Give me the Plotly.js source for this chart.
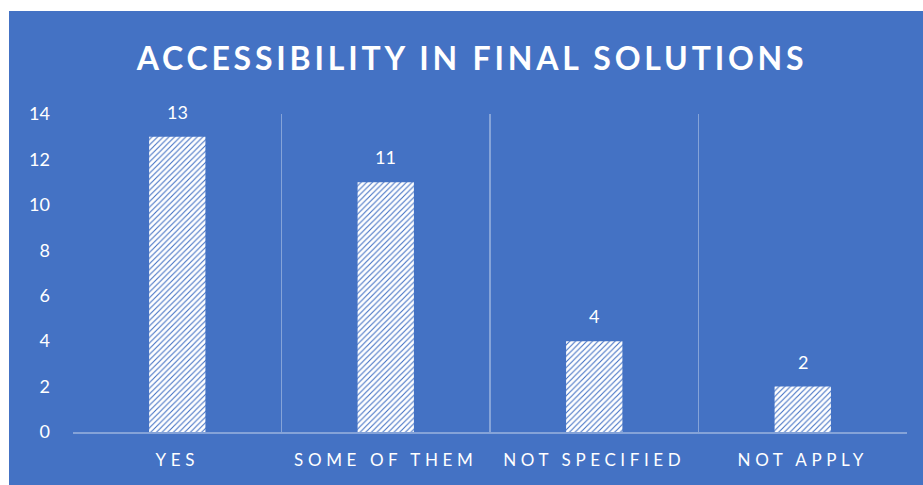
<!DOCTYPE html>
<html>
<head>
<meta charset="utf-8">
<script src="https://cdn.plot.ly/plotly-3.0.1.min.js"></script>
<style>
  html, body { margin: 0; padding: 0; background: #ffffff; }
  #chart { position: absolute; left: 9px; top: 11px; width: 914px; height: 474px; }
  #chart .gtitle { letter-spacing: 3.8px; }
  #chart .xtick text { letter-spacing: 4.6px; }
</style>
</head>
<body>
<div id="chart"></div>
<script>
// Survey answers: is accessibility present in the final solutions?
const categories = ["YES", "SOME OF THEM", "NOT SPECIFIED", "NOT APPLY"];
const counts = [13, 11, 4, 2];

const blue = "#4472C4";
const lineColor = "rgba(255,255,255,0.35)";
const fontFamily = "Lato, 'Open Sans', sans-serif";

const trace = {
  type: "bar",
  x: categories,
  y: counts,
  width: 0.27,
  marker: {
    color: "#ffffff",
    line: { width: 0 },
    pattern: { shape: "/", fgcolor: blue, bgcolor: "#ffffff", size: 4, solidity: 0.28 }
  },
  hoverinfo: "x+y"
};

// value labels floating a little above each bar
const valueLabels = categories.map((c, i) => ({
  x: c,
  y: counts[i],
  xref: "x",
  yref: "y",
  text: String(counts[i]),
  showarrow: false,
  yanchor: "bottom",
  yshift: 12,
  font: { family: fontFamily, size: 18, color: "#ffffff" }
}));

const layout = {
  width: 914,
  height: 474,
  paper_bgcolor: blue,
  plot_bgcolor: blue,
  margin: { l: 64, r: 16, t: 103, b: 53 },
  title: {
    text: "<b>ACCESSIBILITY IN FINAL SOLUTIONS</b>",
    font: { family: fontFamily, size: 32, color: "#ffffff" },
    x: 0.5066,
    xanchor: "center",
    y: 0.9,
    yanchor: "middle"
  },
  showlegend: false,
  annotations: valueLabels,
  xaxis: {
    type: "category",
    tickson: "boundaries",
    showgrid: true,
    gridcolor: lineColor,
    gridwidth: 1.5,
    showline: true,
    linecolor: lineColor,
    linewidth: 1.5,
    ticks: "",
    tickfont: { family: fontFamily, size: 17, color: "#ffffff" },
    ticklabelstandoff: 12,
    zeroline: false
  },
  yaxis: {
    range: [0, 14],
    dtick: 2,
    showgrid: false,
    zeroline: false,
    showline: false,
    ticks: "",
    tickfont: { family: fontFamily, size: 18, color: "#ffffff" },
    ticklabelstandoff: 22
  },
  bargap: 0.73
};

Plotly.newPlot("chart", [trace], layout, { displayModeBar: false, staticPlot: true });
</script>
</body>
</html>
